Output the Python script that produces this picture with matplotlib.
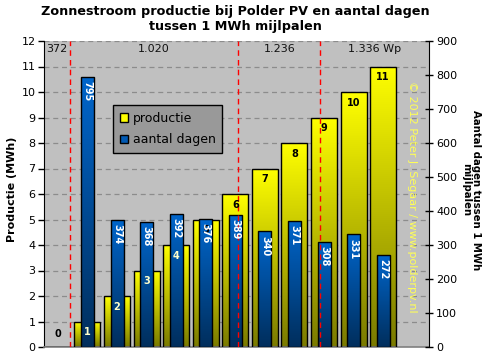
import numpy as np
import matplotlib
matplotlib.use("Agg")
import matplotlib.pyplot as plt
from matplotlib.colors import LinearSegmentedColormap
from matplotlib.patches import Patch

# ---- data ----
categories = list(range(12))
productie = [0, 1, 2, 3, 4, 5, 6, 7, 8, 9, 10, 11]          # MWh
aantal_dagen = [np.nan, 795, 374, 368, 392, 376, 389, 340, 371, 308, 331, 272]
capacity_changes = [0.4, 6.1, 8.88]                          # positions of red lines
capacity_labels = ["372", "1.020", "1.236", "1.336 Wp"]

title = "Zonnestroom productie bij Polder PV en aantal dagen\ntussen 1 MWh mijlpalen"
ylabel_left = "Productie (MWh)"
ylabel_right = "Aantal dagen tussen 1 MWh\nmijlpalen"
copyright_txt = "\u00a9 2012 Peter J. Segaar / www.polderpv.nl"

W, H = 489, 361
fig = plt.figure(figsize=(W / 100, H / 100), dpi=100)
fig.patch.set_facecolor("white")
ax = fig.add_axes([44 / W, 1 - 347 / H, 385 / W, 306 / H])
ax.set_facecolor("#C0C0C0")
ax2 = ax.twinx()

XL = (-0.47, 12.55)
x = np.array(categories, dtype=float)


def gradient_bars(axis, bars, c_top, c_bot, z):
    cmap = LinearSegmentedColormap.from_list("g", [c_bot, c_top])
    grad = np.linspace(0, 1, 256).reshape(-1, 1)
    for b in bars:
        bx, by = b.get_xy()
        w, h = b.get_width(), b.get_height()
        if not np.isfinite(h) or h <= 0:
            continue
        im = axis.imshow(grad, extent=[bx, bx + w, by, by + h], origin="lower",
                         cmap=cmap, aspect="auto", zorder=z, interpolation="bilinear")
        im.set_clip_path(b)


# yellow production bars
prod = np.array(productie, dtype=float)
ybars = ax.bar(x, prod, width=0.88, facecolor="none", edgecolor="black",
               linewidth=1.0, zorder=3)
gradient_bars(ax, ybars, "#FFFF00", "#7A7A00", 2.5)

# blue days bars
days = np.array(aantal_dagen, dtype=float)
mask = np.isfinite(days)
bbars = ax2.bar(x[mask], days[mask], width=0.44, facecolor="none", edgecolor="black",
                linewidth=1.0, zorder=3)
gradient_bars(ax2, bbars, "#0066CC", "#002E5C", 2.5)

ax.set_xlim(*XL)
ax2.set_xlim(*XL)
ax.set_ylim(0, 12)
ax2.set_ylim(0, 900)

# grid
ax.set_yticks(range(0, 13))
ax.yaxis.grid(True, linestyle=(0, (4, 3)), color="#8C8C8C", linewidth=0.9)
ax.set_axisbelow(True)
ax2.set_yticks(range(0, 901, 100))

ax.set_xticks([])
ax2.set_xticks([])
ax.tick_params(axis="y", direction="out", length=4, width=1, labelsize=8, pad=2,
               colors="black")
ax2.tick_params(axis="y", direction="inout", length=6, width=1, labelsize=8, pad=2,
                colors="black")

for s in ("top",):
    ax.spines[s].set_visible(False)
    ax2.spines[s].set_visible(False)
ax2.spines["left"].set_visible(False)
ax2.spines["bottom"].set_visible(False)
ax.spines["right"].set_visible(False)
ax.spines["left"].set_color("black")
ax.spines["bottom"].set_color("#808080")
ax.spines["bottom"].set_linewidth(1.2)
ax2.spines["right"].set_color("black")

# red dashed lines for capacity changes
for cx in capacity_changes:
    ax2.axvline(cx, color="#FF0000", linestyle=(0, (4, 3)), linewidth=1.0, zorder=5)

# capacity labels, centered between boundaries
bounds = [XL[0]] + capacity_changes + [XL[1]]
for i, lab in enumerate(capacity_labels):
    cx = (bounds[i] + bounds[i + 1]) / 2
    ax2.text(cx, 0.974, lab, transform=ax2.get_xaxis_transform(), ha="center",
             va="center", fontsize=8, color="#111111", zorder=6)

# labels on the yellow bars
for xi, v in zip(x, prod):
    if v == 0:
        ax2.annotate(f"{int(v)}", (xi, 0), xycoords=ax.transData, xytext=(0, 6),
                     textcoords="offset points", ha="center", va="bottom",
                     fontsize=7, fontweight="bold", color="black", zorder=7)
        continue
    col = "#FFFFCC" if v < 5 else "black"
    ax2.annotate(f"{int(v)}", (xi, v), xycoords=ax.transData, xytext=(0, -4),
                 textcoords="offset points", ha="center", va="top",
                 fontsize=7, fontweight="bold", color=col, zorder=7)

# labels on the blue bars
for xi, v in zip(x[mask], days[mask]):
    ax2.annotate(f"{int(v)}", (xi, v), xytext=(0, -3), textcoords="offset points",
                 ha="center", va="top", rotation=270, fontsize=7, fontweight="bold",
                 color="white", zorder=7)

# copyright
ax2.text(0.956, 0.49, copyright_txt, transform=ax2.transAxes, rotation=270,
         ha="center", va="center", fontsize=8, color="#FFFF55", zorder=6)

# legend
handles = [Patch(facecolor="#FFFF00", edgecolor="black", label="productie"),
           Patch(facecolor="#0059B3", edgecolor="black", label="aantal dagen")]
leg = ax2.legend(handles=handles, loc="upper left", bbox_to_anchor=(0.18, 0.79),
                 frameon=True, fancybox=False, facecolor="#999999", edgecolor="black",
                 framealpha=1, fontsize=9, handlelength=0.7, handleheight=0.7,
                 handletextpad=0.4, borderpad=0.5, labelspacing=0.7, borderaxespad=0)
leg.get_frame().set_linewidth(1.0)
leg.set_zorder(8)

# titles and axis labels
fig.text(0.481, 1 - 5 / H, title, ha="center", va="top", fontsize=9.2,
         fontweight="bold", linespacing=1.2)
fig.text(12 / W, 1 - 189 / H, ylabel_left, rotation=90, ha="center", va="center",
         fontsize=8, fontweight="bold")
fig.text(471 / W, 1 - 190 / H, ylabel_right, rotation=270, ha="center", va="center",
         fontsize=7.3, fontweight="bold", multialignment="center", linespacing=0.95)

fig.savefig("out.png", dpi=100, facecolor="white")
